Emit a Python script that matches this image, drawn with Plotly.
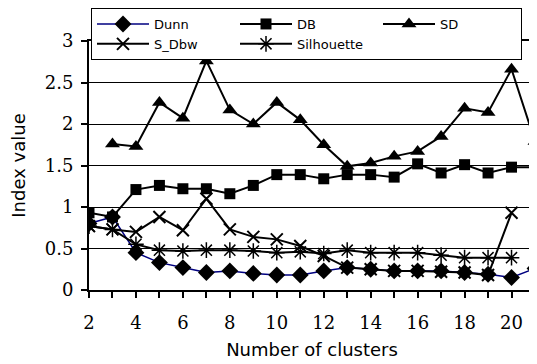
import plotly.graph_objects as go

clusters = list(range(2, 22))
dunn = [0.80, 0.88, 0.45, 0.33, 0.27, 0.21, 0.23, 0.20, 0.18, 0.18, 0.23, 0.27, 0.25, 0.23, 0.23, 0.23, 0.21, 0.19, 0.15, 0.26]
db = [0.93, 0.88, 1.21, 1.26, 1.22, 1.22, 1.16, 1.26, 1.39, 1.39, 1.34, 1.39, 1.39, 1.36, 1.52, 1.41, 1.51, 1.41, 1.48, 1.48]
sd = [None, 1.76, 1.73, 2.26, 2.07, 2.76, 2.17, 2.00, 2.26, 2.05, 1.75, 1.49, 1.53, 1.61, 1.67, 1.85, 2.19, 2.14, 2.66, 1.79]
s_dbw = [0.77, 0.73, 0.70, 0.88, 0.72, 1.10, 0.73, 0.64, 0.61, 0.53, 0.41, 0.27, 0.25, 0.23, 0.23, 0.22, 0.21, 0.18, 0.93, None]
silhouette = [0.77, 0.73, 0.55, 0.48, 0.47, 0.48, 0.48, 0.47, 0.45, 0.46, 0.44, 0.48, 0.45, 0.45, 0.45, 0.42, 0.39, 0.39, 0.39, None]

x_tick_vals = list(range(2, 22))
x_tick_text = [str(v) if v % 2 == 0 else "" for v in x_tick_vals]

SERIF = "DejaVu Serif"
SANS = "DejaVu Sans"

# page body has a default 8px margin; size the figure to fit the window
W, H = 529, 356

fig = go.Figure()
fig.add_trace(go.Scatter(x=clusters, y=dunn, name="Dunn", mode="lines+markers",
                         line=dict(color="#000080", width=1.5),
                         marker=dict(symbol="diamond", size=13, color="black")))
fig.add_trace(go.Scatter(x=clusters, y=db, name="DB", mode="lines+markers",
                         line=dict(color="black", width=2),
                         marker=dict(symbol="square", size=11, color="black")))
fig.add_trace(go.Scatter(x=clusters, y=sd, name="SD", mode="lines+markers",
                         line=dict(color="black", width=2),
                         marker=dict(symbol="triangle-up", size=13, color="black")))
fig.add_trace(go.Scatter(x=clusters, y=s_dbw, name="S_Dbw", mode="lines+markers",
                         line=dict(color="black", width=2),
                         marker=dict(symbol="x-thin-open", size=12, color="black",
                                     line=dict(color="black", width=2))))
fig.add_trace(go.Scatter(x=clusters, y=silhouette, name="Silhouette", mode="lines+markers",
                         line=dict(color="black", width=2),
                         marker=dict(symbol="asterisk-open", size=13, color="black",
                                     line=dict(color="black", width=1.5))))

fig.update_layout(
    width=W, height=H,
    font=dict(family=SANS, color="black"),
    margin=dict(l=81, r=2, t=33, b=74, autoexpand=False),
    paper_bgcolor="white", plot_bgcolor="white",
    showlegend=True,
    legend=dict(orientation="h", xref="container", yref="container",
                x=83/W, y=1 - 0/H, xanchor="left", yanchor="top",
                bgcolor="white", bordercolor="black", borderwidth=1,
                entrywidth=76, entrywidthmode="pixels", itemwidth=52,
                font=dict(family=SANS, size=13, color="black"),
                tracegroupgap=0),
    xaxis=dict(range=[2, 21], tickvals=x_tick_vals, ticktext=x_tick_text,
               ticks="outside", ticklen=6, tickwidth=1.5, tickcolor="black",
               showline=True, linecolor="black", linewidth=2, mirror=True,
               showgrid=False, zeroline=False, automargin=False,
               ticklabelstandoff=9,
               tickfont=dict(family=SERIF, size=18, color="black"),
               title=dict(text="Number of clusters", standoff=12,
                          font=dict(family=SANS, size=18, color="black"))),
    yaxis=dict(range=[0, 3], dtick=0.5, tick0=0,
               ticks="outside", ticklen=6, tickwidth=1.5, tickcolor="black",
               showline=True, linecolor="black", linewidth=2, mirror=True,
               showgrid=True, gridcolor="black", gridwidth=1, zeroline=False,
               automargin=False, ticklabelstandoff=4,
               tickfont=dict(family=SERIF, size=18, color="black"),
               title=dict(text="Index value", standoff=24,
                          font=dict(family=SANS, size=18, color="black"))),
)

fig.write_html("out.html")
